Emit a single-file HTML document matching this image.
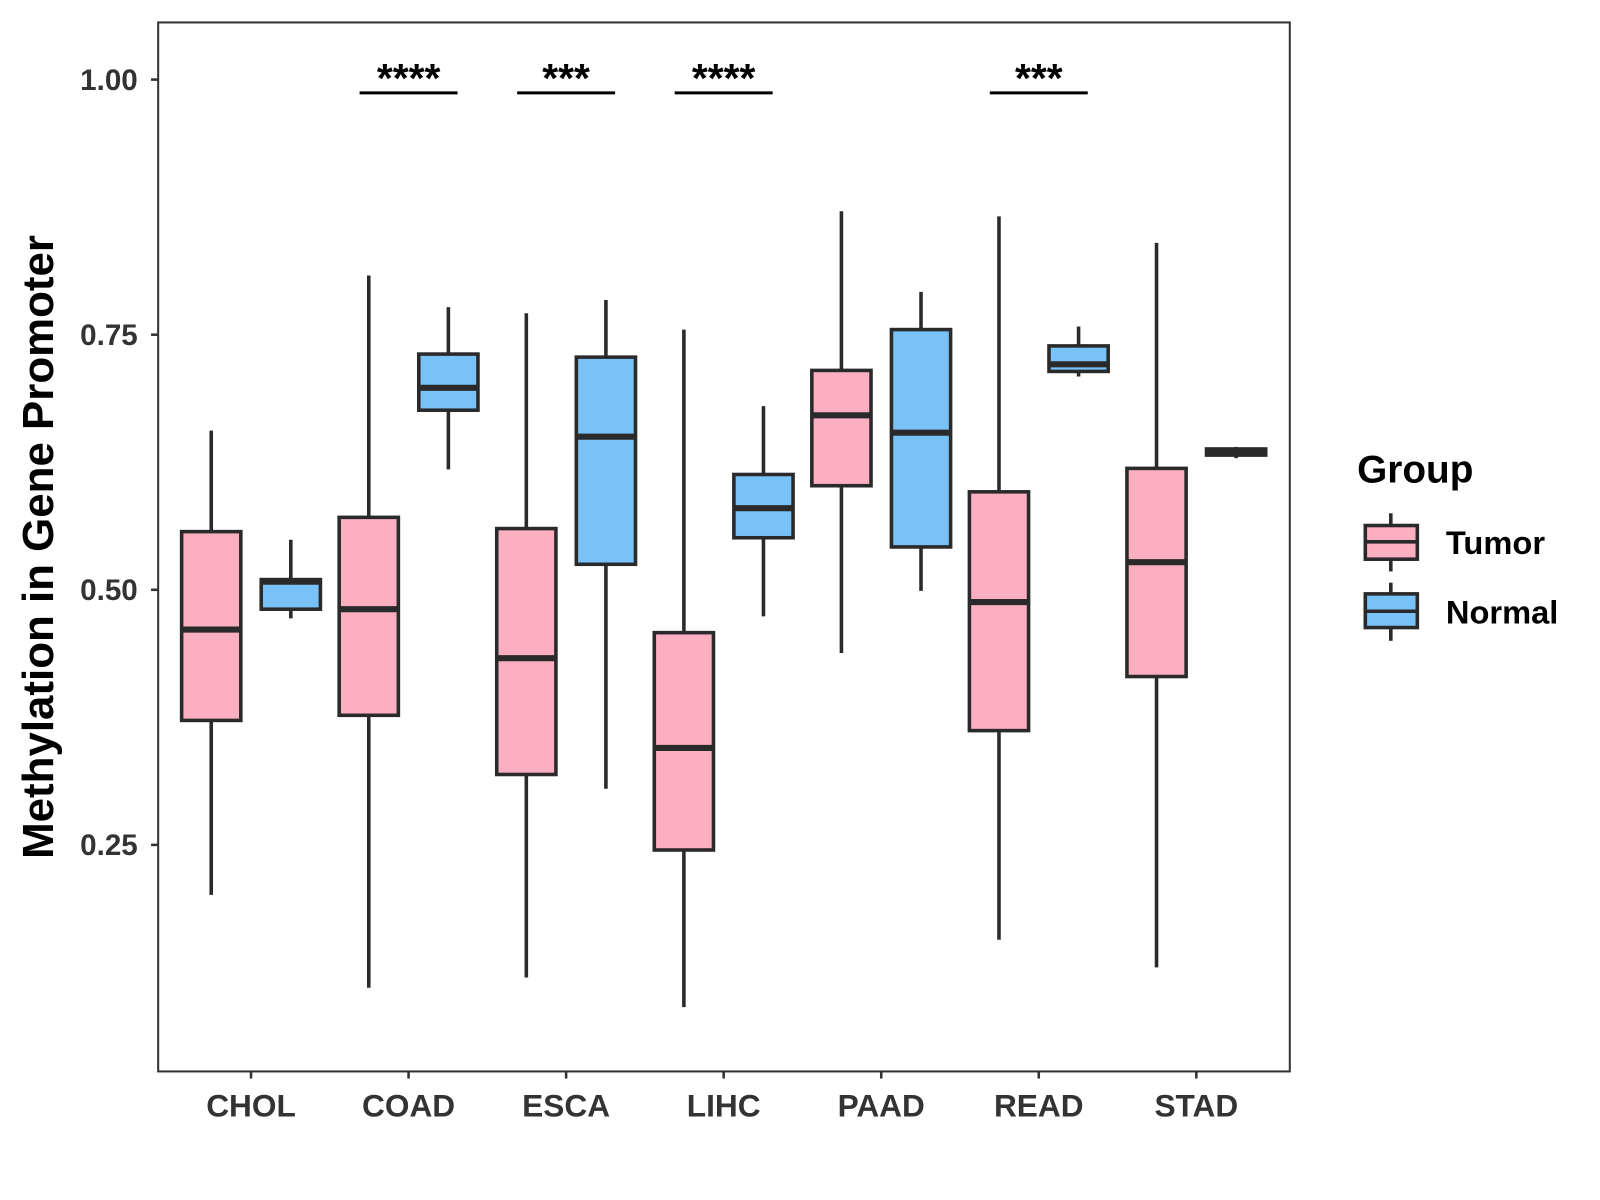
<!DOCTYPE html>
<html><head><meta charset="utf-8"><style>
html,body{margin:0;padding:0;background:#fff}
svg{display:block;font-family:"Liberation Sans",Arial,sans-serif;font-weight:bold}
</style></head><body>
<svg id="chart" width="1600" height="1200" viewBox="0 0 1568 1176" xmlns="http://www.w3.org/2000/svg">
<rect width="1568" height="1176" fill="#fff"/>
<g id="plot"></g>
<text x="52" y="536" transform="rotate(-90 52 536)" text-anchor="middle" font-size="43" fill="#000">Methylation in Gene Promoter</text>
<g>
<text x="1330" y="473" font-size="38" fill="#000">Group</text>
<g>
<line x1="1363" y1="503" x2="1363" y2="560" stroke="#2a2a2a" stroke-width="3.5"/>
<rect x="1338" y="515" width="51" height="33" fill="#FBAFC0" stroke="#2a2a2a" stroke-width="3.5"/>
<line x1="1338" y1="531" x2="1389" y2="531" stroke="#2a2a2a" stroke-width="3.5"/>
<text x="1417" y="543" font-size="32" fill="#000">Tumor</text></g>
<g>
<line x1="1363" y1="571" x2="1363" y2="628" stroke="#2a2a2a" stroke-width="3.5"/>
<rect x="1338" y="582" width="51" height="33" fill="#79C2F8" stroke="#2a2a2a" stroke-width="3.5"/>
<line x1="1338" y1="599" x2="1389" y2="599" stroke="#2a2a2a" stroke-width="3.5"/>
<text x="1417" y="611" font-size="32" fill="#000">Normal</text></g>
</g>
</svg>
<script>
const categories=["CHOL","COAD","ESCA","LIHC","PAAD","READ","STAD"];
const tumorStats=[[0.201,0.372,0.461,0.557,0.656],[0.110,0.377,0.481,0.571,0.808],[0.120,0.319,0.433,0.560,0.771],[0.091,0.245,0.345,0.458,0.755],[0.438,0.602,0.671,0.715,0.871],[0.157,0.362,0.488,0.596,0.866],[0.130,0.415,0.527,0.619,0.840]];
const normalStats=[[0.472,0.481,0.508,0.510,0.549],[0.618,0.676,0.698,0.731,0.777],[0.305,0.525,0.650,0.728,0.784],[0.474,0.551,0.580,0.613,0.680],[0.499,0.542,0.654,0.755,0.792],[0.709,0.714,0.721,0.739,0.758],[0.629,0.632,0.635,0.638,0.640]];
const yTicks=[0.25,0.5,0.75,1.0];
const yTickLabels=["0.25","0.50","0.75","1.00"];
const sigLabels=["","****","***","****","","***",""];
const NS="http://www.w3.org/2000/svg";
const L=155,R=1264,T=22,B=1050;
function yS(v){return 78+(1-v)*1000;}
function xS(i){return 246+i*154.4;}
const g=document.getElementById('plot');
function mk(t,a,p){const e=document.createElementNS(NS,t);for(const k in a)e.setAttribute(k,a[k]);(p||g).appendChild(e);return e;}
const frame=mk('rect',{x:L,y:T,width:R-L,height:B-T,fill:'none',stroke:'#333',"stroke-width":2});


yTicks.forEach((v,i)=>{
  const tk=mk('line',{x1:L-7,x2:L,y1:yS(v),y2:yS(v),stroke:'#333',"stroke-width":2.5});
  
  
  const tx=mk('text',{x:L-20,y:yS(v)+10,"text-anchor":"end","font-size":29,fill:'#333'});
  tx.textContent=yTickLabels[i];
  
  
});
function drawBox(s,cx,fill,name){
  const grp=mk('g',{});
  
  
  const w=29;
  mk('line',{x1:cx,x2:cx,y1:yS(s[4]),y2:yS(s[0]),stroke:'#2a2a2a',"stroke-width":3.5},grp);
  mk('rect',{x:cx-w,y:yS(s[3]),width:2*w,height:Math.max(0.5,yS(s[1])-yS(s[3])),fill:fill,stroke:'#2a2a2a',"stroke-width":3.5},grp);
  mk('line',{x1:cx-w,x2:cx+w,y1:yS(s[2]),y2:yS(s[2]),stroke:'#2a2a2a',"stroke-width":6},grp);
}
categories.forEach((c,i)=>{
  const cx=xS(i);
  const tk=mk('line',{x1:cx,x2:cx,y1:B,y2:B+7,stroke:'#333',"stroke-width":2.5});
  
  
  const tx=mk('text',{x:cx,y:B+44,"text-anchor":"middle","font-size":31,fill:'#333'});
  tx.textContent=c;
  
  
  drawBox(tumorStats[i],cx-39,'#FBAFC0','box-tumor-'+c.toLowerCase());
  drawBox(normalStats[i],cx+39,'#79C2F8','box-normal-'+c.toLowerCase());
  if(sigLabels[i]){
    const br=mk('line',{x1:cx-48,x2:cx+48,y1:91,y2:91,stroke:'#000',"stroke-width":3});
    
    
    const st=mk('text',{x:cx,y:90,"text-anchor":"middle","font-size":40,fill:'#000'});
    st.textContent=sigLabels[i];
    
    
  }
});
</script>
</body></html>
